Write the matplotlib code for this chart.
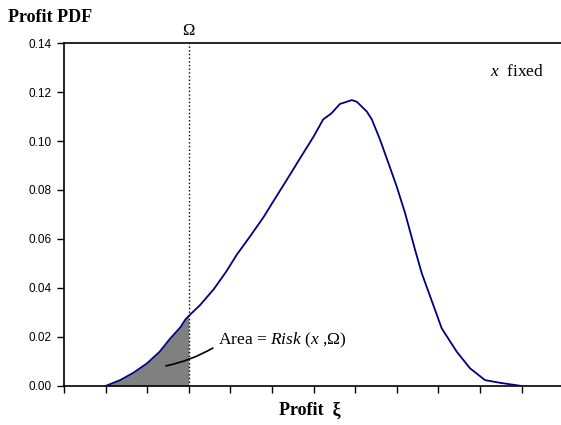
import matplotlib.pyplot as plt
import numpy as np

# profit pdf curve (x in tick units)
xs = [1.0, 1.35, 1.67, 2.0, 2.3, 2.55, 2.8, 2.92, 3.0, 3.27, 3.6, 3.9, 4.15, 4.47,
      4.8, 5.0, 5.35, 5.75, 6.0, 6.23, 6.43, 6.63, 6.92, 7.04, 7.28, 7.4, 7.6,
      7.8, 8.0, 8.2, 8.44, 8.6, 8.92, 9.08, 9.44, 9.76, 10.12, 10.48, 11.0]
ys = [0.0, 0.0024, 0.0054, 0.0093, 0.014, 0.0193, 0.024, 0.0272, 0.0286, 0.033,
      0.0395, 0.0467, 0.0535, 0.061, 0.069, 0.0745, 0.084, 0.095, 0.1018, 0.1088,
      0.1113, 0.1151, 0.1167, 0.116, 0.112, 0.1088, 0.1004, 0.0909, 0.0813,
      0.0705, 0.0555, 0.046, 0.031, 0.0235, 0.014, 0.0072, 0.0024, 0.0013, 0.0]
omega = 3.0
yticks = [0.00, 0.02, 0.04, 0.06, 0.08, 0.10, 0.12, 0.14]

serif = 'Liberation Serif'
plt.rcParams['mathtext.fontset'] = 'custom'
plt.rcParams['mathtext.rm'] = serif
plt.rcParams['mathtext.it'] = serif + ':italic'

fig = plt.figure(figsize=(5.61, 4.25), dpi=100)
ax = fig.add_axes([0.114, 0.0918, 0.890, 0.807])

xs = np.array(xs)
ys = np.array(ys)
ax.plot(xs, ys, color='#000080', lw=1.3, zorder=3)
m = xs <= omega
ax.fill_between(xs[m], 0, ys[m], color='#808080', lw=0, zorder=2)
ax.plot([omega, omega], [0, 0.14], color='black', lw=1, ls=':', zorder=4)

ax.set_xlim(0, 12)
ax.set_ylim(0, 0.14)
ax.set_xticks(range(0, 13))
ax.set_xticklabels([])
ax.set_yticks(yticks)
ax.set_yticklabels(['%.2f' % v for v in yticks], fontfamily='Liberation Sans', fontsize=8.5)
ax.tick_params(direction='out', length=5, width=1, pad=4)
ax.spines['right'].set_visible(False)
for s in ['left', 'bottom', 'top']:
    ax.spines[s].set_linewidth(1.2)

fig.text(0.553, 0.035, 'Profit  ξ', fontfamily=serif, fontweight='bold', fontsize=13,
         ha='center', va='center')
fig.text(0.014, 0.96, 'Profit PDF', fontfamily=serif, fontweight='bold', fontsize=13,
         va='center', ha='left')
ax.text(omega, 0.1415, 'Ω', fontfamily=serif, fontsize=12, ha='center', va='bottom')
ax.text(11.55, 0.128, '$\\it{x}$  fixed', fontfamily=serif, fontsize=12.5, ha='right', va='center')
ax.text(3.7, 0.0188, 'Area = $\\it{Risk}$ ($\\it{x}$ ,Ω)', fontfamily=serif, fontsize=12.5,
        va='center', ha='left')
ax.annotate('', xy=(2.45, 0.0082), xytext=(3.58, 0.0155),
            arrowprops=dict(arrowstyle='-', color='black', lw=1.2,
                            connectionstyle='arc3,rad=-0.08', shrinkA=0, shrinkB=0))

fig.savefig('out.png', dpi=100)
